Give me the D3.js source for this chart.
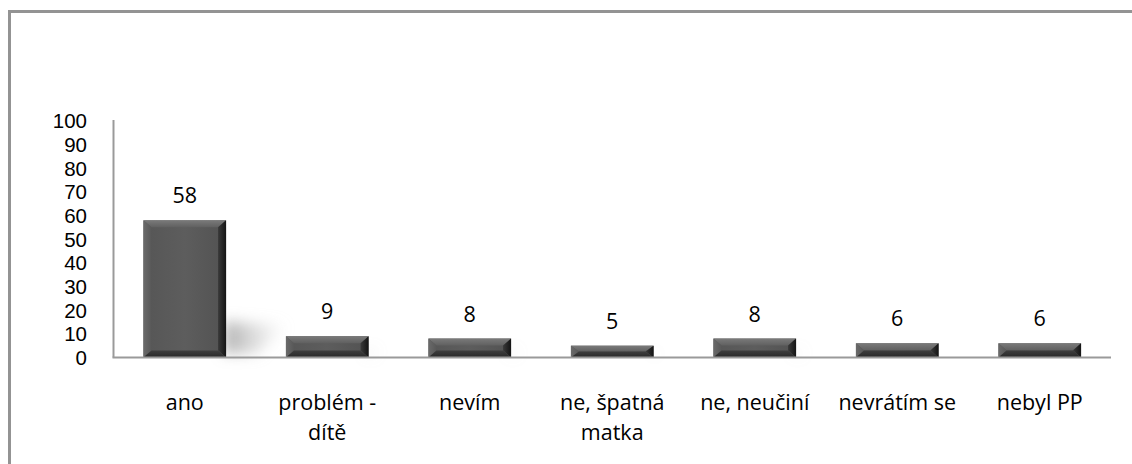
<!DOCTYPE html>
<html>
<head>
<meta charset="utf-8">
<script src="https://cdn.jsdelivr.net/npm/d3@7"></script>
<style>
  html, body { margin: 0; padding: 0; background: #fff; }
  svg { display: block; }
  text { font-family: "Open Sans", "Noto Sans", sans-serif; font-weight: 400; fill: #000; }
  text.tick { font-family: "Liberation Sans", Arial, sans-serif; }
</style>
</head>
<body>
<svg id="chart" width="1132" height="464"></svg>
<script>
// Answers and counts
const categories = [["ano"], ["problém -", "dítě"], ["nevím"], ["ne, špatná", "matka"], ["ne, neučiní"], ["nevrátím se"], ["nebyl PP"]];
const values = [58, 9, 8, 5, 8, 6, 6];
const yTicks = [0, 10, 20, 30, 40, 50, 60, 70, 80, 90, 100];

const svg = d3.select("#chart");
const W = 1132, H = 464;
const FS = 21.5;

// Frame (only the top and left edges fall inside the view)
svg.append("path")
  .attr("d", `M9.5,${H} V11.5 H${W}`)
  .attr("fill", "none")
  .attr("stroke", "#939393")
  .attr("stroke-width", 3);

const plot = { left: 113.5, right: 1111, top: 121, bottom: 357.5 };

const x = d3.scaleBand()
  .domain(d3.range(values.length))
  .range([plot.left, plot.right])
  .padding(0);

const y = d3.scaleLinear()
  .domain([0, 100])
  .range([plot.bottom, plot.top]);

const defs = svg.append("defs");
const blur = defs.append("filter").attr("id", "soft").attr("x", "-50%").attr("y", "-50%").attr("width", "200%").attr("height", "200%");
blur.append("feGaussianBlur").attr("stdDeviation", 7);

function grad(id, x1, y1, x2, y2, stops) {
  const g = defs.append("linearGradient").attr("id", id)
    .attr("x1", x1).attr("y1", y1).attr("x2", x2).attr("y2", y2);
  stops.forEach(([o, c, op]) => g.append("stop").attr("offset", o).attr("stop-color", c).attr("stop-opacity", op == null ? 1 : op));
}
grad("gFace", 0, 0, 1, 0, [[0, "#565656"], [0.5, "#5d5d5d"], [1, "#525252"]]);
grad("gTop", 0, 0, 0, 1, [[0, "#7a7a7a"], [1, "#606060"]]);
grad("gLeft", 0, 0, 1, 0, [[0, "#6a6a6a"], [1, "#585858"]]);
grad("gRight", 0, 0, 1, 0, [[0, "#3a3a3a"], [1, "#141414"]]);
grad("gBottom", 0, 0, 0, 1, [[0, "#3e3e3e"], [1, "#282828"]]);
grad("gShadow", 0, 0, 1, 0, [[0, "#9a9a9a", 0.8], [0.6, "#c0c0c0", 0.4], [1, "#e0e0e0", 0]]);

const barW = x.bandwidth() * 0.58;

// Soft cast shadows behind the bars
const shadows = svg.append("g").attr("filter", "url(#soft)");
values.forEach((v, i) => {
  const x0 = x(i) + (x.bandwidth() - barW) / 2;
  const x1 = x0 + barW;
  const top = y(v);
  const h = plot.bottom - top;
  const sh = Math.min(h * 0.3, 36);
  const dx = Math.min(h * 0.5, 62);
  shadows.append("path")
    .attr("d", `M${x1 - 2},${plot.bottom - 4} L${x1 - 2},${plot.bottom - sh} L${x1 + dx},${plot.bottom - sh * 0.9} L${x1 + dx * 0.5},${plot.bottom - 4} Z`)
    .attr("fill", "url(#gShadow)");
});

// Axes lines
const axisColor = "#9a9a9a";
svg.append("line")
  .attr("x1", plot.left).attr("x2", plot.left)
  .attr("y1", y(100) - 1).attr("y2", plot.bottom)
  .attr("stroke", axisColor).attr("stroke-width", 2);

// Y tick labels
svg.append("g").selectAll("text")
  .data(yTicks)
  .join("text")
  .attr("class", "tick")
  .attr("x", 87)
  .attr("y", d => y(d))
  .attr("dy", "0.36em")
  .attr("text-anchor", "end")
  .attr("font-size", 20.5)
  .text(d => d);

// Bevelled bars
const bars = svg.append("g");
values.forEach((v, i) => {
  const x0 = x(i) + (x.bandwidth() - barW) / 2;
  const x1 = x0 + barW;
  const y0 = y(v);
  const y1 = plot.bottom;
  const b = Math.min(7, (y1 - y0) / 2);
  const bx = 8;
  const g = bars.append("g");
  g.append("rect").attr("x", x0).attr("y", y0).attr("width", barW).attr("height", y1 - y0).attr("fill", "url(#gFace)");
  g.append("path").attr("d", `M${x0},${y0} L${x1},${y0} L${x1 - bx},${y0 + b} L${x0 + bx},${y0 + b} Z`).attr("fill", "url(#gTop)");
  g.append("path").attr("d", `M${x0},${y0} L${x0 + bx},${y0 + b} L${x0 + bx},${y1 - b} L${x0},${y1} Z`).attr("fill", "url(#gLeft)");
  g.append("path").attr("d", `M${x1},${y0} L${x1},${y1} L${x1 - bx},${y1 - b} L${x1 - bx},${y0 + b} Z`).attr("fill", "url(#gRight)");
  g.append("path").attr("d", `M${x0},${y1} L${x0 + bx},${y1 - b} L${x1 - bx},${y1 - b} L${x1},${y1} Z`).attr("fill", "url(#gBottom)");
});

// Baseline
svg.append("line")
  .attr("x1", plot.left - 1).attr("x2", plot.right)
  .attr("y1", plot.bottom).attr("y2", plot.bottom)
  .attr("stroke", axisColor).attr("stroke-width", 2);

// Value labels
svg.append("g").selectAll("text")
  .data(values)
  .join("text")
  .attr("x", (d, i) => x(i) + x.bandwidth() / 2)
  .attr("y", d => y(d) - 17)
  .attr("text-anchor", "middle")
  .attr("font-size", FS)
  .text(d => d);

// Category labels
const cat = svg.append("g").selectAll("text")
  .data(categories)
  .join("text")
  .attr("x", (d, i) => x(i) + x.bandwidth() / 2)
  .attr("y", 410)
  .attr("text-anchor", "middle")
  .attr("font-size", FS);
cat.each(function(lines) {
  const t = d3.select(this);
  const cx = t.attr("x");
  lines.forEach((ln, k) => {
    t.append("tspan").attr("x", cx).attr("dy", k === 0 ? 0 : 30).text(ln);
  });
});
</script>
</body>
</html>
